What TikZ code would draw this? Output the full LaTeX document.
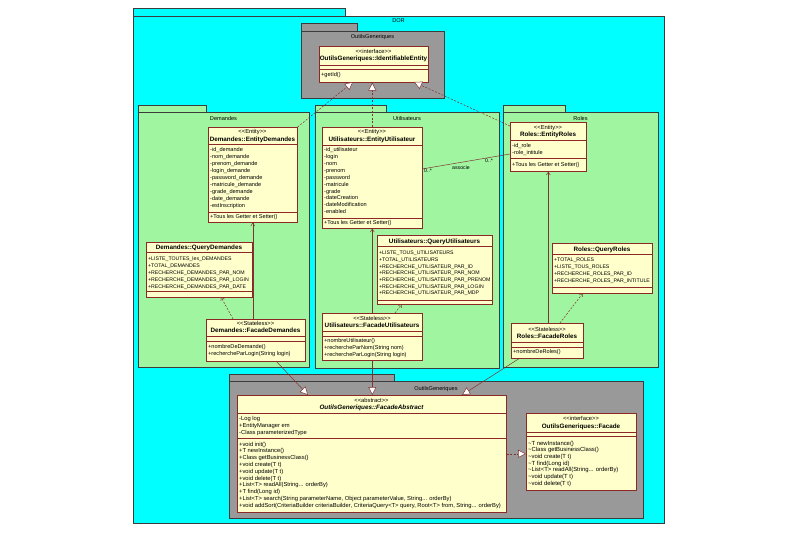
\documentclass[tikz,border=0pt]{standalone}
\usepackage{fontspec}
\setmainfont{Liberation Sans}
\usetikzlibrary{arrows.meta}
\definecolor{cyanc}{RGB}{0,255,255}
\definecolor{greenc}{RGB}{160,245,160}
\definecolor{grayc}{RGB}{153,153,153}
\definecolor{clsfill}{RGB}{255,255,204}
\definecolor{clsdraw}{RGB}{140,40,40}
\definecolor{pkgdraw}{RGB}{60,60,60}
\definecolor{lnc}{RGB}{130,50,50}
\newcommand\lsg{<\kern0pt<}
\newcommand\rsg{>\kern0pt>}
\newcommand\hsep[2]{\draw[sepl] (#1.west |- 0,#2) -- (#1.east |- 0,#2);}
\begin{document}
\begin{tikzpicture}[x=1pt,y=-1pt,
  cls/.style={draw=clsdraw, fill=clsfill, line width=0.6pt, anchor=north west, inner sep=0, rectangle},
  pkg/.style={draw=pkgdraw, line width=0.5pt, anchor=north west, inner sep=0, rectangle},
  sepl/.style={draw=clsdraw, line width=0.45pt},
  ster/.style={inner sep=0, anchor=base, font=\fontsize{5.8}{6}\selectfont},
  cname/.style={inner sep=0, anchor=base, font=\bfseries\fontsize{6.3}{7}\selectfont},
  lines/.style={inner sep=0, anchor=north west, align=left, font=\fontsize{5.6}{6.9}\selectfont},
  ulines/.style={inner sep=0, anchor=north west, align=left, font=\fontsize{5.2}{7}\selectfont},
  plbl/.style={inner sep=0, anchor=base, font=\fontsize{5.6}{6}\selectfont},
  albl/.style={inner sep=0, anchor=base west, font=\fontsize{5.2}{5.5}\selectfont},
  tri/.tip={Triangle[fill=white, length=8pt, width=8pt]},
  real/.style={draw=lnc, line width=0.5pt, dash pattern=on 2pt off 1.5pt, -tri},
  gen/.style={draw=lnc, line width=0.5pt, -tri},
  dep/.style={draw=lnc, line width=0.5pt, dash pattern=on 2pt off 1.5pt, -{Straight Barb[length=3pt, width=4pt]}},
  nav/.style={draw=lnc, line width=0.5pt, -{Straight Barb[length=3pt, width=4pt]}},
  assoc/.style={draw=lnc, line width=0.5pt}]
\useasboundingbox[fill=white] (0,0) rectangle (800,534);

% outer package
\node[pkg, fill=cyanc, minimum width=212, minimum height=8] (orT) at (133,8) {};
\node[pkg, fill=cyanc, minimum width=531, minimum height=507] (orB) at (133,16) {};
\node[plbl] (orL) at (398.5,23) {DOR};

% top OutilsGeneriques
\node[pkg, fill=grayc, minimum width=56, minimum height=8] (ogT) at (301,23) {};
\node[pkg, fill=grayc, minimum width=143, minimum height=67] (ogB) at (301,31) {};
\node[plbl] (ogL) at (372.5,39) {OutilsGeneriques};

% green packages
\node[pkg, fill=greenc, minimum width=68, minimum height=7] (pdT) at (138,105) {};
\node[pkg, fill=greenc, minimum width=171, minimum height=255] (pdB) at (138,112) {};
\node[plbl] (pdL) at (223.5,121) {Demandes};
\node[pkg, fill=greenc, minimum width=71, minimum height=7] (puT) at (315,105) {};
\node[pkg, fill=greenc, minimum width=184, minimum height=256] (puB) at (315,112) {};
\node[plbl] (puL) at (407,121) {Utilisateurs};
\node[pkg, fill=greenc, minimum width=62, minimum height=7] (prT) at (503,105) {};
\node[pkg, fill=greenc, minimum width=155, minimum height=255] (prB) at (503,112) {};
\node[plbl] (prL) at (580.5,121) {Roles};

% bottom OutilsGeneriques
\node[pkg, fill=grayc, minimum width=165, minimum height=7] (obT) at (229,374) {};
\node[pkg, fill=grayc, minimum width=414, minimum height=137] (obB) at (229,381) {};
\node[plbl] (obL) at (436,390) {OutilsGeneriques};

% interface IdentifiableEntity
\node[cls, minimum width=109, minimum height=36] (ifc) at (319,46) {};
\node[ster] (ifcS) at (373.5,53.7) {\lsg interface\rsg};
\node[cname] (ifcN) at (373.5,60.4) {OutilsGeneriques::IdentifiableEntity};
\hsep{ifc}{65.7}\hsep{ifc}{69}
\node[lines] (ifcM) at (321,72.7) {+getId()};

% EntityDemandes
\node[cls, minimum width=89, minimum height=95] (entD) at (208,127) {};
\node[ster] (entDS) at (252.5,134) {\lsg Entity\rsg};
\node[cname] (entDN) at (252.5,141.3) {Demandes::EntityDemandes};
\hsep{entD}{143.8}\hsep{entD}{212}
\node[lines] (entDA) at (210,147.7) {-id\_demande\\-nom\_demande\\-prenom\_demande\\-login\_demande\\-password\_demande\\-matricule\_demande\\-grade\_demande\\-date\_demande\\-estInscription};
\node[lines] (entDM) at (210,214.7) {+Tous les Getter et Setter()};

% QueryDemandes
\node[cls, minimum width=106, minimum height=55] (qD) at (146,242) {};
\node[cname] (qDN) at (199,249.4) {Demandes::QueryDemandes};
\hsep{qD}{251.8}\hsep{qD}{291}
\node[ulines] (qDA) at (148,256.8) {+LISTE\_TOUTES\_les\_DEMANDES\\+TOTAL\_DEMANDES\\+RECHERCHE\_DEMANDES\_PAR\_NOM\\+RECHERCHE\_DEMANDES\_PAR\_LOGIN\\+RECHERCHE\_DEMANDES\_PAR\_DATE};

% FacadeDemandes
\node[cls, minimum width=99, minimum height=42] (facD) at (206,319) {};
\node[ster] (facDS) at (255.5,326) {\lsg Stateless\rsg};
\node[cname] (facDN) at (255.5,332.4) {Demandes::FacadeDemandes};
\hsep{facD}{336}\hsep{facD}{341}
\node[lines] (facDM) at (208,344.7) {+nombreDeDemande()\\+rechercheParLogin(String login)};

% EntityUtilisateur
\node[cls, minimum width=100, minimum height=101] (entU) at (322,127) {};
\node[ster] (entUS) at (372,134) {\lsg Entity\rsg};
\node[cname] (entUN) at (372,141.3) {Utilisateurs::EntityUtilisateur};
\hsep{entU}{145}\hsep{entU}{218}
\node[lines, font=\fontsize{5.6}{6.85}\selectfont] (entUA) at (324,147.7) {-id\_utilisateur\\-login\\-nom\\-prenom\\-password\\-matricule\\-grade\\-dateCreation\\-dateModification\\-enabled};
\node[lines] (entUM) at (324,220.7) {+Tous les Getter et Setter()};

% QueryUtilisateurs
\node[cls, minimum width=115, minimum height=69] (qU) at (377,235) {};
\node[cname] (qUN) at (434.5,243.4) {Utilisateurs::QueryUtilisateurs};
\hsep{qU}{246}\hsep{qU}{300}
\node[ulines, font=\fontsize{5.2}{6.7}\selectfont] (qUA) at (379,250.8) {+LISTE\_TOUS\_UTILISATEURS\\+TOTAL\_UTILISATEURS\\+RECHERCHE\_UTILISATEUR\_PAR\_ID\\+RECHERCHE\_UTILISATEUR\_PAR\_NOM\\+RECHERCHE\_UTILISATEUR\_PAR\_PRENOM\\+RECHERCHE\_UTILISATEUR\_PAR\_LOGIN\\+RECHERCHE\_UTILISATEUR\_PAR\_MDP};

% FacadeUtilisateurs
\node[cls, minimum width=100, minimum height=47] (facU) at (322,313) {};
\node[ster] (facUS) at (372,321) {\lsg Stateless\rsg};
\node[cname] (facUN) at (372,327.4) {Utilisateurs::FacadeUtilisateurs};
\hsep{facU}{331}\hsep{facU}{336}
\node[lines, font=\fontsize{5.6}{6.7}\selectfont] (facUM) at (324,338.7) {+nombreUtilisateur()\\+rechercheParNom(String nom)\\+rechercheParLogin(String login)};

% EntityRoles
\node[cls, minimum width=76, minimum height=49] (entR) at (510,122) {};
\node[ster] (entRS) at (548,130) {\lsg Entity\rsg};
\node[cname] (entRN) at (548,136.4) {Roles::EntityRoles};
\hsep{entR}{140}\hsep{entR}{158}
\node[lines, font=\fontsize{5.6}{6.3}\selectfont] (entRA) at (512,143.7) {-id\_role\\-role\_intitule};
\node[lines] (entRM) at (512,162.7) {+Tous les Getter et Setter()};

% QueryRoles
\node[cls, minimum width=100, minimum height=50] (qR) at (552,243) {};
\node[cname] (qRN) at (602,251.4) {Roles::QueryRoles};
\hsep{qR}{254}\hsep{qR}{287}
\node[ulines] (qRA) at (554,257.8) {+TOTAL\_ROLES\\+LISTE\_TOUS\_ROLES\\+RECHERCHE\_ROLES\_PAR\_ID\\+RECHERCHE\_ROLES\_PAR\_INTITULE};

% FacadeRoles
\node[cls, minimum width=72, minimum height=35] (facR) at (511,323) {};
\node[ster] (facRS) at (547,331) {\lsg Stateless\rsg};
\node[cname] (facRN) at (547,338.4) {Roles::FacadeRoles};
\hsep{facR}{342}\hsep{facR}{347}
\node[lines] (facRM) at (513,349.7) {+nombreDeRoles()};

% FacadeAbstract
\node[cls, minimum width=269, minimum height=117] (abs) at (237,395) {};
\node[ster] (absS) at (371.5,402) {\lsg abstract\rsg};
\node[cname, font=\bfseries\itshape\fontsize{6.3}{7}\selectfont] (absN) at (371.5,409.4) {OutilsGeneriques::FacadeAbstract};
\hsep{abs}{413}\hsep{abs}{438}
\node[lines, font=\fontsize{5.8}{7}\selectfont] (absA) at (239,415.7) {-Log log\\+EntityManager em\\-Class parameterizedType};
\node[lines, font=\fontsize{5.8}{6.8}\selectfont] (absM) at (239,441.7) {+void init()\\+T newInstance()\\+Class getBusinessClass()\\+void create(T t)\\+void update(T t)\\+void delete(T t)\\+List<T> readAll(String... orderBy)\\+T find(Long id)\\+List<T> search(String parameterName, Object parameterValue, String... orderBy)\\+void addSort(CriteriaBuilder criteriaBuilder, CriteriaQuery<T> query, Root<T> from, String... orderBy)};

% Facade interface
\node[cls, minimum width=110, minimum height=77] (fac) at (526,413) {};
\node[ster] (facS) at (581,420) {\lsg interface\rsg};
\node[cname] (facN) at (581,428.4) {OutilsGeneriques::Facade};
\hsep{fac}{432}\hsep{fac}{436}
\node[lines, font=\fontsize{5.9}{6.7}\selectfont] (facM) at (528,440.7) {\textasciitilde T newInstance()\\\textasciitilde Class getBusinessClass()\\\textasciitilde void create(T t)\\\textasciitilde T find(Long id)\\\textasciitilde List<T> readAll(String... orderBy)\\\textasciitilde void update(T t)\\\textasciitilde void delete(T t)};

% connector end points
\coordinate (ifcA) at (353,82);
\coordinate (ifcC) at (414,82);
\coordinate (entRtl) at (510,126);
\coordinate (facDq) at (233,319);
\coordinate (qDb) at (221,297);
\coordinate (facDa) at (276,361);
\coordinate (absA1) at (308,395);
\coordinate (facUq) at (395,313);
\coordinate (qUb) at (402,304);
\coordinate (facRq) at (560,323);
\coordinate (qRb) at (583,293);
\coordinate (facRa) at (520,358);
\coordinate (absA3) at (462,395);
\coordinate (entUr) at (422,169);
\coordinate (entRl) at (510,154);

% realizations to IdentifiableEntity
\draw[real] (entD.north east) -- (ifcA);
\draw[real] (entU.north) -- (entU.north |- ifc.south);
\draw[real] (entRtl) -- (ifcC);

% Demandes
\draw[nav] (facD.north -| entD.south) -- (entD.south);
\draw[dep] (facDq) -- (qDb);
\draw[gen] (facDa) -- (absA1);

% Utilisateurs
\draw[nav] (facU.north) -- (entU.south);
\draw[dep] (facUq) -- (qUb);
\draw[gen] (facU.south) -- (facU.south |- abs.north);

% Roles
\draw[nav] (facR.north -| entR.south) -- (entR.south);
\draw[dep] (facRq) -- (qRb);
\draw[gen] (facRa) -- (absA3);

% FacadeAbstract implements Facade
\draw[real] (abs.east) -- (abs.east -| fac.west);

% association
\draw[assoc] (entUr) -- (entRl);
\node[albl] (m1) at (424,173) {0..*};
\node[albl] (m2) at (485,163) {0..*};
\node[albl] (m3) at (452,170) {associe};
\end{tikzpicture}
\end{document}
